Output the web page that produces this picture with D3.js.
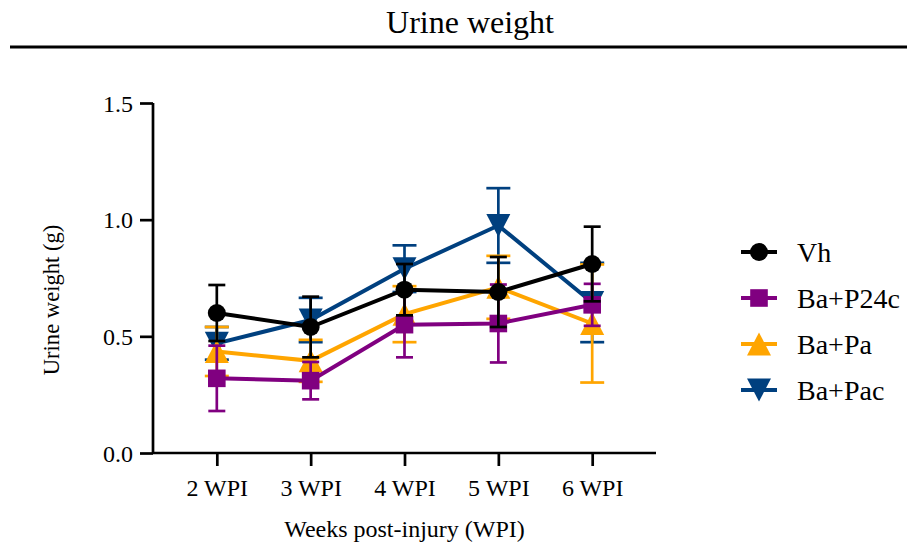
<!DOCTYPE html>
<html>
<head>
<meta charset="utf-8">
<script src="https://cdn.jsdelivr.net/npm/d3@7"></script>
<style>
  html, body { margin: 0; padding: 0; background: #fff; }
  svg { display: block; }
  text { font-family: "Liberation Serif", "Times New Roman", serif; fill: #000; }
</style>
</head>
<body>
<svg id="chart" width="907" height="546"></svg>
<script>
// Week labels along the x axis
const weeks = ["2 WPI", "3 WPI", "4 WPI", "5 WPI", "6 WPI"];
const yTicks = [0, 0.5, 1.0, 1.5];

// Group means and standard errors (g)
const vhMean    = [0.60, 0.54, 0.70, 0.69, 0.81];
const vhSem     = [0.12, 0.13, 0.11, 0.15, 0.16];
const p24cMean  = [0.32, 0.31, 0.55, 0.555, 0.635];
const p24cSem   = [0.14, 0.08, 0.14, 0.167, 0.09];
const paMean    = [0.435, 0.395, 0.595, 0.71, 0.555];
const paSem     = [0.105, 0.09, 0.12, 0.135, 0.253];
const pacMean   = [0.47, 0.57, 0.79, 0.975, 0.645];
const pacSem    = [0.07, 0.095, 0.10, 0.16, 0.17];

const groupNames = ["Vh", "Ba+P24c", "Ba+Pa", "Ba+Pac"];

const series = [
  { name: groupNames[0], mean: vhMean,   sem: vhSem,   color: "#000000", shape: "circle",  cap: 17 },
  { name: groupNames[1], mean: p24cMean, sem: p24cSem, color: "#800080", shape: "square",  cap: 17 },
  { name: groupNames[2], mean: paMean,   sem: paSem,   color: "#FFA500", shape: "triUp",   cap: 24 },
  { name: groupNames[3], mean: pacMean,  sem: pacSem,  color: "#00407F", shape: "triDown", cap: 24 }
];

const svg = d3.select("#chart");
const plotLeft = 153, plotRight = 656, plotTop = 103, plotBottom = 453;

const x = d3.scalePoint().domain(weeks).range([plotLeft, plotRight]).padding(0.68);
const y = d3.scaleLinear().domain([0, 1.5]).range([plotBottom, plotTop]);

// Title and rule beneath it
svg.append("text")
  .attr("x", 470).attr("y", 33)
  .attr("text-anchor", "middle")
  .attr("font-size", 32)
  .text("Urine weight");
svg.append("line")
  .attr("x1", 10).attr("x2", 907).attr("y1", 47).attr("y2", 47)
  .attr("stroke", "#000").attr("stroke-width", 3);

// Axes
const yAxis = svg.append("g")
  .attr("transform", `translate(${plotLeft},0)`)
  .call(d3.axisLeft(y).tickValues(yTicks).tickFormat(d3.format(".1f")).tickSize(13).tickPadding(7));
const xAxis = svg.append("g")
  .attr("transform", `translate(0,${plotBottom})`)
  .call(d3.axisBottom(x).tickSize(13).tickPadding(13));
xAxis.select(".domain").attr("d", `M${plotLeft},0H${plotRight}`);
yAxis.select(".domain").attr("d", `M0,${plotTop}V${plotBottom}`);
[xAxis, yAxis].forEach(g => {
  g.selectAll(".domain, .tick line").attr("stroke", "#000").attr("stroke-width", 2.7);
  g.selectAll("text").attr("font-size", 24)
    .attr("font-family", "\"Liberation Serif\", \"Times New Roman\", serif").attr("fill", "#000");
});
xAxis.selectAll(".tick text").attr("dy", "0.71em");
yAxis.selectAll(".tick text").attr("dy", "0.34em");

// Axis titles
svg.append("text")
  .attr("x", (plotLeft + plotRight) / 2).attr("y", 537)
  .attr("text-anchor", "middle").attr("font-size", 24)
  .text("Weeks post-injury (WPI)");
svg.append("text")
  .attr("transform", "translate(59,300) rotate(-90)")
  .attr("text-anchor", "middle").attr("font-size", 22.6)
  .text("Urine weight (g)");

// Marker shapes
function marker(sel, shape, color) {
  if (shape === "circle") {
    sel.append("circle").attr("r", 9).attr("fill", color);
  } else if (shape === "square") {
    sel.append("rect").attr("x", -8.8).attr("y", -8.8).attr("width", 17.6).attr("height", 17.6).attr("fill", color);
  } else if (shape === "triUp") {
    sel.append("path").attr("d", "M0,-11.5L12,11.5L-12,11.5Z").attr("fill", color);
  } else {
    sel.append("path").attr("d", "M0,11.5L12,-11.5L-12,-11.5Z").attr("fill", color);
  }
}

const line = d3.line().x(d => x(d.week)).y(d => y(d.value));

// Draw groups back to front so Vh sits on top
series.slice().reverse().forEach(s => {
  const pts = weeks.map((w, i) => ({ week: w, value: s.mean[i], err: s.sem[i] }));
  const g = svg.append("g");
  const eb = g.selectAll(".eb").data(pts).join("g")
    .attr("stroke", s.color).attr("stroke-width", 2.7).attr("fill", "none");
  eb.append("line")
    .attr("x1", d => x(d.week)).attr("x2", d => x(d.week))
    .attr("y1", d => y(d.value - d.err)).attr("y2", d => y(d.value + d.err));
  [-1, 1].forEach(sign => {
    eb.append("line")
      .attr("x1", d => x(d.week) - s.cap / 2).attr("x2", d => x(d.week) + s.cap / 2)
      .attr("y1", d => y(d.value + sign * d.err)).attr("y2", d => y(d.value + sign * d.err));
  });
  g.append("path").datum(pts).attr("d", line)
    .attr("fill", "none").attr("stroke", s.color).attr("stroke-width", 4);
  g.selectAll(".mk").data(pts).join("g")
    .attr("transform", d => `translate(${x(d.week)},${y(d.value)})`)
    .each(function () { marker(d3.select(this), s.shape, s.color); });
});

// Legend
const legend = svg.append("g");
series.forEach((s, i) => {
  const cy = 252 + i * 46;
  const item = legend.append("g").attr("transform", `translate(0,${cy})`);
  item.append("line").attr("x1", 741).attr("x2", 777).attr("y1", 0).attr("y2", 0)
    .attr("stroke", s.color).attr("stroke-width", 4);
  const m = item.append("g").attr("transform", "translate(759,0)");
  marker(m, s.shape, s.color);
  item.append("text").attr("x", 797).attr("y", 9.5).attr("font-size", 28).text(s.name);
});
</script>
</body>
</html>
